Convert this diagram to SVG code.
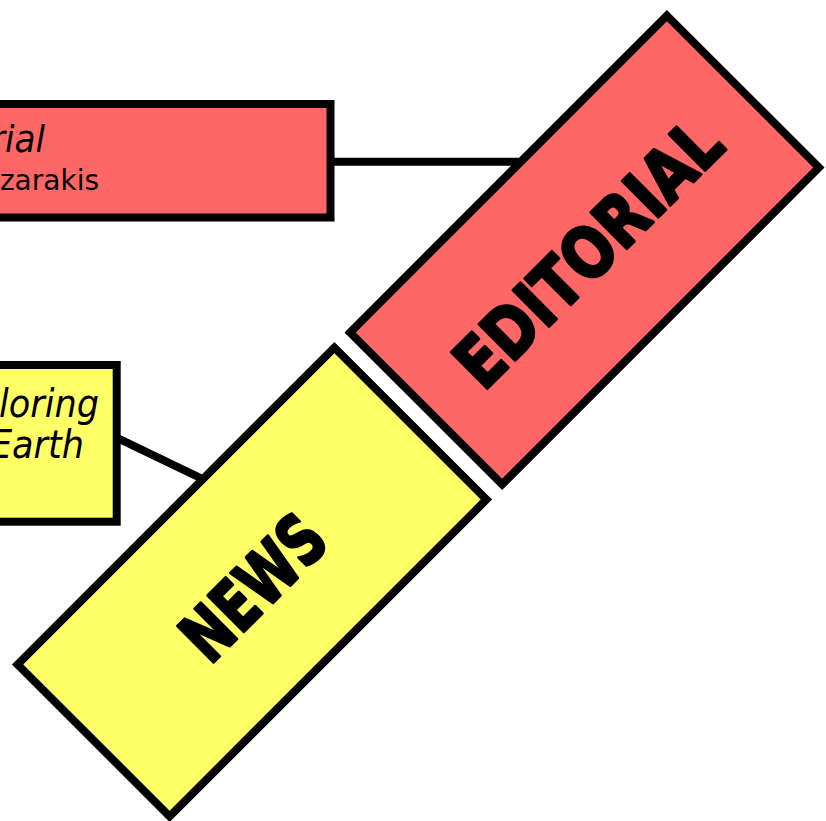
<svg xmlns="http://www.w3.org/2000/svg" width="826" height="821" viewBox="0 0 826 821">
  <style>
    .edge { stroke: #000; stroke-width: 8; fill: none; }
    .box { stroke: #000; stroke-width: 8; }
    .red { fill: #FF6666; }
    .yellow { fill: #FFFF66; }
    .title { font-family: "DejaVu Sans Condensed", "DejaVu Sans", Verdana, sans-serif; font-stretch: condensed; font-style: italic; fill: #000; }
    .sub { font-family: "DejaVu Sans", Verdana, sans-serif; fill: #000; }
    .big { font-family: "DejaVu Sans", sans-serif; font-weight: bold; font-size: 70px; fill: #000; stroke: #000; stroke-width: 3; stroke-linejoin: round; }
  </style>
  <rect width="826" height="821" fill="#fff"/>
  <g id="connectors">
    <line class="edge" x1="330" y1="161.8" x2="560" y2="161.8"/>
    <line class="edge" x1="116" y1="437.3" x2="240" y2="497"/>
  </g>
  <g id="node-editorial-item">
    <rect class="box red" x="-200" y="104" width="530.5" height="113.5"/>
    <text class="title" x="45" y="152" font-size="38" text-anchor="end">rial</text>
    <text class="sub" x="99" y="190" font-size="28" text-anchor="end">zarakis</text>
  </g>
  <g id="node-news-item">
    <rect class="box yellow" x="-200" y="365" width="316.7" height="156.7"/>
    <text class="title" x="99" y="417" font-size="39" text-anchor="end">loring</text>
    <text class="title" x="84" y="458" font-size="39" text-anchor="end">Earth</text>
  </g>
  <g id="node-editorial" transform="translate(584.5,250) rotate(-45)">
    <rect class="box red" x="-224" y="-107.5" width="448" height="215"/>
    <text class="big" x="0.5" y="29" text-anchor="middle" textLength="345" lengthAdjust="spacingAndGlyphs">EDITORIAL</text>
  </g>
  <g id="node-news" transform="translate(252,582) rotate(-45)">
    <rect class="box yellow" x="-224" y="-107.5" width="448" height="215"/>
    <text class="big" x="-3" y="29.5" text-anchor="middle" textLength="172" lengthAdjust="spacingAndGlyphs">NEWS</text>
  </g>
</svg>
